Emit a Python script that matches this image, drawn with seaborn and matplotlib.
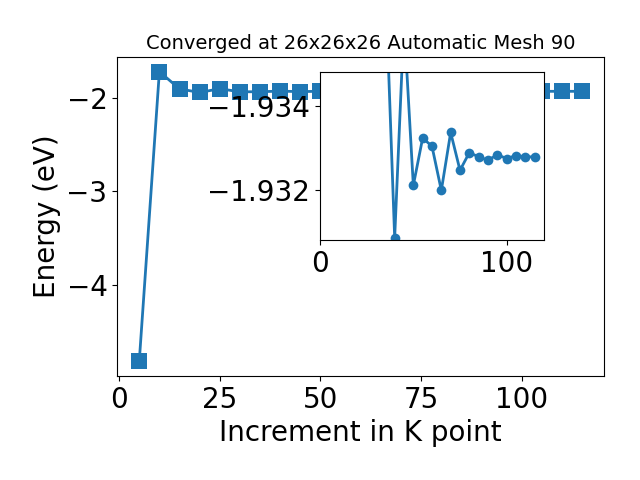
import matplotlib
matplotlib.use('Agg')
import matplotlib.pyplot as plt
import pandas as pd
import seaborn as sns

# k point increments and total energies (eV)
kpoints = [5, 10, 15, 20, 25, 30, 35, 40, 45, 50, 55, 60, 65, 70, 75, 80, 85, 90, 95, 100, 105, 110, 115]
energies = [-4.82, -1.722, -1.907, -1.945, -1.905, -1.938, -1.937, -1.93085, -1.936,
            -1.93210, -1.93323, -1.93303, -1.93198, -1.93336, -1.93246, -1.93288,
            -1.93278, -1.93270, -1.93283, -1.93274, -1.93281, -1.93278, -1.93278]

title = 'Converged at 26x26x26 Automatic Mesh 90'

df = pd.DataFrame({'k': kpoints, 'E': energies})
# inset only shows the tail of the scan
df_tail = df[df['k'] >= 35]

fig = plt.figure(figsize=(6.4, 4.8), dpi=100)
ax = fig.add_axes([0.183, 0.217, 0.761, 0.664])
sns.lineplot(data=df, x='k', y='E', marker='s', markersize=12, linewidth=2,
             markeredgewidth=0, color='#1f77b4', ax=ax)
ax.set_xlabel('Increment in K point', fontsize=20)
ax.set_ylabel('Energy (eV)', fontsize=20)
ax.set_title(title, fontsize=14)
ax.tick_params(labelsize=20)
ax.set_xticks([0, 25, 50, 75, 100])
ax.set_yticks([-4, -3, -2])

# zoomed inset on the converged region
ins = fig.add_axes([0.5, 0.5, 0.35, 0.35])
sns.lineplot(data=df_tail, x='k', y='E', marker='o', markersize=7, linewidth=2,
             markeredgewidth=0, color='#1f77b4', ax=ins)
ins.set_xlim(0, 120)
ins.set_ylim(-1.9308, -1.9348)
ins.set_xticks([0, 100])
ins.set_yticks([-1.934, -1.932])
ins.tick_params(labelsize=20)
ins.set_xlabel('')
ins.set_ylabel('')

fig.savefig('out.png', dpi=100)
